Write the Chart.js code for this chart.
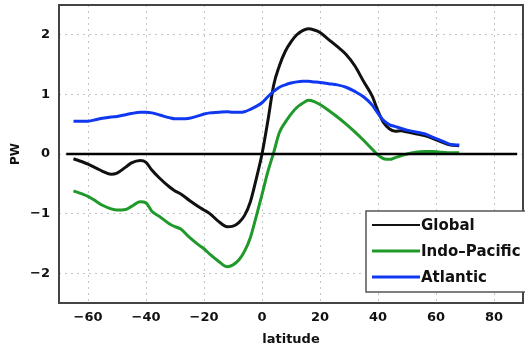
<!DOCTYPE html>
<html>
<head>
<meta charset="utf-8">
<script src="https://cdn.jsdelivr.net/npm/chart.js@4"></script>
<style>
  html, body { margin: 0; padding: 0; background: #fff; }
  #wrap { width: 525px; height: 347px; }
</style>
</head>
<body>
<div id="wrap"><canvas id="myChart" width="525" height="347"></canvas></div>
<script>
// latitude grid shared by the three curves
const latitudes = [
  -65, -62, -60, -57, -55, -52, -50, -47, -45, -42, -40, -38, -35, -32, -30, -28,
  -25, -22, -20, -18, -15, -12, -10, -8, -6, -4, -2, 0, 2, 4, 6, 8, 10, 12, 14, 16,
  18, 20, 23, 26, 29, 32, 35, 38, 40, 42, 44, 46, 48, 50, 53, 56, 59, 62, 65, 68
]

const globalPW = [
  -0.08, -0.13, -0.17, -0.24, -0.29, -0.34, -0.32, -0.22, -0.15, -0.11, -0.14, -0.27, -0.42, -0.55, -0.62, -0.67,
  -0.78, -0.88, -0.94, -1.0, -1.13, -1.22, -1.21, -1.15, -1.03, -0.8, -0.42, 0.0, 0.55, 1.15, 1.48, 1.72, 1.88, 2.0, 2.07, 2.1,
  2.08, 2.04, 1.92, 1.8, 1.67, 1.48, 1.22, 0.97, 0.72, 0.52, 0.42, 0.38, 0.39, 0.37, 0.34, 0.31, 0.26, 0.2, 0.15, 0.14
]

const indoPacificPW = [
  -0.62, -0.67, -0.71, -0.8, -0.86, -0.92, -0.94, -0.93, -0.88, -0.8, -0.82, -0.96, -1.06, -1.17, -1.22, -1.26,
  -1.4, -1.52, -1.59, -1.68, -1.8, -1.89, -1.86, -1.78, -1.63, -1.4, -1.05, -0.68, -0.3, 0.02, 0.36, 0.53, 0.67, 0.78, 0.85, 0.9,
  0.88, 0.83, 0.73, 0.62, 0.5, 0.37, 0.23, 0.08, -0.02, -0.08, -0.09, -0.06, -0.03, 0.0, 0.03, 0.04, 0.04, 0.03, 0.02, 0.02
]

const atlanticPW = [
  0.55, 0.55, 0.55, 0.58, 0.6, 0.62, 0.63, 0.66, 0.68, 0.7, 0.7, 0.69, 0.65, 0.61, 0.59, 0.59,
  0.6, 0.64, 0.67, 0.69, 0.7, 0.71, 0.7, 0.7, 0.71, 0.75, 0.8, 0.86, 0.96, 1.05, 1.12, 1.16, 1.19, 1.21, 1.22, 1.22,
  1.21, 1.2, 1.18, 1.16, 1.12, 1.05, 0.96, 0.82, 0.68, 0.56, 0.49, 0.46, 0.43, 0.4, 0.37, 0.34, 0.28, 0.22, 0.16, 0.15
]

// horizontal zero reference line
const zeroLineLat = [-67.5, 88]
const zeroLineVal = [0, 0]

const xTicks = [-60, -40, -20, 0, 20, 40, 60, 80]
const yTicks = [-2, -1, 0, 1, 2]

const seriesNames = ['Global', 'Indo\u2013Pacific', 'Atlantic']
const seriesColors = ['#111111', '#1f9a2a', '#1038f0']

function toPoints(xs, ys) {
  return xs.map((x, i) => ({ x: x, y: ys[i] }))
}

const FONT = '"DejaVu Sans", Verdana, sans-serif'

// draws the frame and the legend box in the lower right
const framePlugin = {
  id: 'frame',
  afterDraw(chart) {
    let ctx = chart.ctx
    let a = chart.chartArea
    ctx.save()
    ctx.strokeStyle = '#444'
    ctx.lineWidth = 2
    ctx.strokeRect(a.left, a.top, a.right - a.left, a.bottom - a.top)

    // legend
    let bx = 366, by = 211, bw = 170, bh = 81
    ctx.fillStyle = '#fff'
    ctx.fillRect(bx, by, bw, bh)
    ctx.strokeStyle = '#555'
    ctx.lineWidth = 1.5
    ctx.strokeRect(bx, by, bw, bh)
    ctx.font = 'bold 15px ' + FONT
    ctx.textBaseline = 'middle'
    ctx.textAlign = 'left'
    for (let i = 0; i < seriesNames.length; i++) {
      let yy = by + 14 + i * 26
      ctx.strokeStyle = seriesColors[i]
      ctx.lineWidth = i == 0 ? 2 : 3
      ctx.beginPath()
      ctx.moveTo(372, yy)
      ctx.lineTo(420, yy)
      ctx.stroke()
      ctx.fillStyle = '#111'
      ctx.fillText(seriesNames[i], 421, yy + 1)
    }
    ctx.restore()
  }
}

function noPadding(scale) {
  scale.paddingTop = 0
  scale.paddingBottom = 0
  scale.paddingLeft = 0
  scale.paddingRight = 0
}

let data = {
  datasets: [
    {
      label: seriesNames[0],
      data: toPoints(latitudes, globalPW),
      borderColor: seriesColors[0],
      borderWidth: 3,
      order: 3
    },
    {
      label: seriesNames[1],
      data: toPoints(latitudes, indoPacificPW),
      borderColor: seriesColors[1],
      borderWidth: 3,
      order: 2
    },
    {
      label: seriesNames[2],
      data: toPoints(latitudes, atlanticPW),
      borderColor: seriesColors[2],
      borderWidth: 3,
      order: 1
    },
    {
      label: 'zero',
      data: toPoints(zeroLineLat, zeroLineVal),
      borderColor: '#000',
      borderWidth: 2.5,
      tension: 0,
      order: 0
    }
  ]
}

let config = {
  type: 'line',
  data: data,
  plugins: [framePlugin],
  options: {
    responsive: false,
    animation: false,
    layout: { padding: { top: 5, right: 2, left: 0, bottom: 0 } },
    elements: {
      point: { radius: 0 },
      line: { tension: 0.4, cubicInterpolationMode: 'monotone', fill: false }
    },
    plugins: {
      legend: { display: false },
      tooltip: { enabled: false }
    },
    scales: {
      x: {
        type: 'linear',
        min: -70,
        max: 90,
        afterBuildTicks: (scale) => { scale.ticks = xTicks.map(v => ({ value: v })) },
        afterFit: (scale) => { scale.height = 44; noPadding(scale) },
        grid: { color: '#c4c4c4', lineWidth: 1, drawTicks: false },
        border: { display: false, dash: [2, 4] },
        ticks: {
          padding: 7,
          color: '#111',
          font: { family: FONT, size: 13, weight: 'bold' },
          callback: (v) => String(v).replace('-', '\u2212')
        },
        title: {
          display: true,
          text: 'latitude',
          color: '#111',
          padding: { top: 0, bottom: 0 },
          font: { family: FONT, size: 13, weight: 'bold' }
        }
      },
      y: {
        min: -2.5,
        max: 2.5,
        afterBuildTicks: (scale) => { scale.ticks = yTicks.map(v => ({ value: v })) },
        afterFit: (scale) => { scale.width = 59; noPadding(scale) },
        grid: { color: '#c4c4c4', lineWidth: 1, drawTicks: false },
        border: { display: false, dash: [2, 4] },
        ticks: {
          padding: 9,
          color: '#111',
          font: { family: FONT, size: 13, weight: 'bold' },
          callback: (v) => String(v).replace('-', '\u2212')
        },
        title: {
          display: true,
          text: 'PW',
          color: '#111',
          padding: { top: 9, bottom: 0 },
          font: { family: FONT, size: 12, weight: 'bold' }
        }
      }
    }
  }
}

let myChart = new Chart(document.getElementById('myChart'), config)
</script>
</body>
</html>
